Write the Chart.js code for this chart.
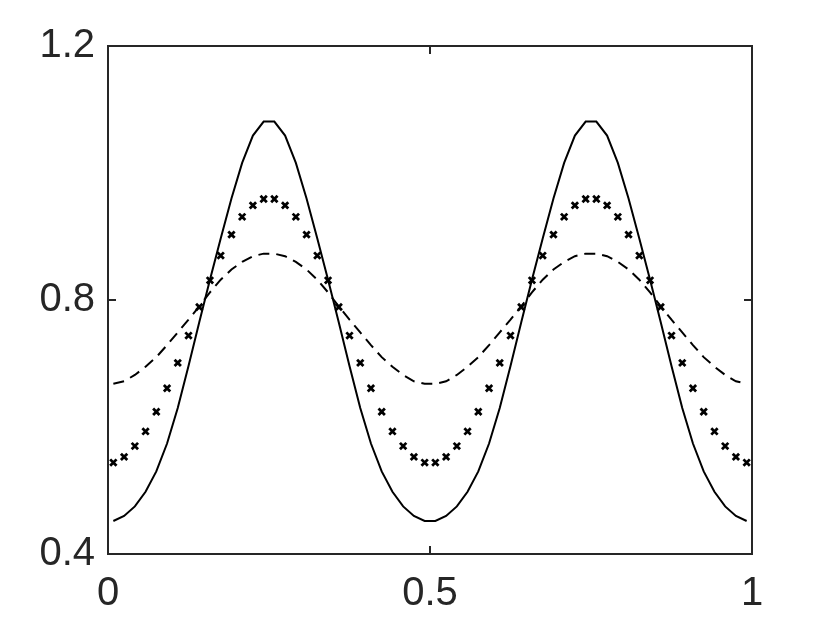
<!DOCTYPE html>
<html>
<head>
<meta charset="utf-8">
<script src="https://cdn.jsdelivr.net/npm/chart.js@4.4.1/dist/chart.umd.min.js"></script>
<style>
  html, body { margin: 0; padding: 0; background: #ffffff; }
  #wrap { width: 830px; height: 623px; }
</style>
</head>
<body>
<div id="wrap"><canvas id="c" width="830" height="623"></canvas></div>
<script>
// sample positions (x)
const xValues = [
  0.0083, 0.025, 0.0417, 0.0583, 0.075, 0.0917, 0.1083, 0.125, 0.1417, 0.1583,
  0.175, 0.1917, 0.2083, 0.225, 0.2417, 0.2583, 0.275, 0.2917, 0.3083, 0.325,
  0.3417, 0.3583, 0.375, 0.3917, 0.4083, 0.425, 0.4417, 0.4583, 0.475, 0.4917,
  0.5083, 0.525, 0.5417, 0.5583, 0.575, 0.5917, 0.6083, 0.625, 0.6417, 0.6583,
  0.675, 0.6917, 0.7083, 0.725, 0.7417, 0.7583, 0.775, 0.7917, 0.8083, 0.825,
  0.8417, 0.8583, 0.875, 0.8917, 0.9083, 0.925, 0.9417, 0.9583, 0.975, 0.9917
];
// solid line
const solidValues = [
  0.452, 0.460, 0.475, 0.498, 0.530, 0.574, 0.630, 0.696, 0.765, 0.832,
  0.897, 0.960, 1.016, 1.059, 1.081, 1.081, 1.059, 1.016, 0.960, 0.897,
  0.832, 0.765, 0.696, 0.630, 0.574, 0.530, 0.498, 0.475, 0.460, 0.452,
  0.452, 0.460, 0.475, 0.498, 0.530, 0.574, 0.630, 0.696, 0.765, 0.832,
  0.897, 0.960, 1.016, 1.059, 1.081, 1.081, 1.059, 1.016, 0.960, 0.897,
  0.832, 0.765, 0.696, 0.630, 0.574, 0.530, 0.498, 0.475, 0.460, 0.452
];
// x markers
const markerValues = [
  0.544, 0.553, 0.570, 0.593, 0.624, 0.661, 0.701, 0.744, 0.789, 0.831,
  0.870, 0.903, 0.931, 0.949, 0.959, 0.959, 0.949, 0.931, 0.903, 0.870,
  0.831, 0.789, 0.744, 0.701, 0.661, 0.624, 0.593, 0.570, 0.553, 0.544,
  0.544, 0.553, 0.570, 0.593, 0.624, 0.661, 0.701, 0.744, 0.789, 0.831,
  0.870, 0.903, 0.931, 0.949, 0.959, 0.959, 0.949, 0.931, 0.903, 0.870,
  0.831, 0.789, 0.744, 0.701, 0.661, 0.624, 0.593, 0.570, 0.553, 0.544
];
// dashed line
const dashedValues = [
  0.668, 0.672, 0.682, 0.695, 0.710, 0.729, 0.749, 0.769, 0.790, 0.812,
  0.832, 0.848, 0.860, 0.869, 0.873, 0.873, 0.869, 0.860, 0.848, 0.832,
  0.812, 0.790, 0.769, 0.749, 0.729, 0.710, 0.695, 0.682, 0.672, 0.668,
  0.668, 0.672, 0.682, 0.695, 0.710, 0.729, 0.749, 0.769, 0.790, 0.812,
  0.832, 0.848, 0.860, 0.869, 0.873, 0.873, 0.869, 0.860, 0.848, 0.832,
  0.812, 0.790, 0.769, 0.749, 0.729, 0.710, 0.695, 0.682, 0.672, 0.668
];
// tick values / labels
const xTicks = [0, 0.5, 1];
const xTickLabels = ['0', '0.5', '1'];
const yTicks = [0.4, 0.8, 1.2];
const yTickLabels = ['0.4', '0.8', '1.2'];

const AXIS_COLOR = '#262626';
const FONT = { family: "'Liberation Sans', Arial, Helvetica, sans-serif", size: 40 };

const toPts = arr => arr.map((v, i) => ({ x: xValues[i], y: v }));

const boxPlugin = {
  id: 'matlabBox',
  afterDatasetsDraw(chart) {
    const ctx = chart.ctx;
    const a = chart.chartArea;
    const sx = chart.scales.x, sy = chart.scales.y;
    const tl = 8;
    ctx.save();
    ctx.strokeStyle = AXIS_COLOR;
    ctx.lineWidth = 2;
    ctx.strokeRect(a.left, a.top, a.right - a.left, a.bottom - a.top);
    ctx.beginPath();
    xTicks.forEach(v => {
      const px = sx.getPixelForValue(v);
      ctx.moveTo(px, a.bottom); ctx.lineTo(px, a.bottom - tl);
      ctx.moveTo(px, a.top); ctx.lineTo(px, a.top + tl);
    });
    yTicks.forEach(v => {
      const py = sy.getPixelForValue(v);
      ctx.moveTo(a.left, py); ctx.lineTo(a.left + tl, py);
      ctx.moveTo(a.right, py); ctx.lineTo(a.right - tl, py);
    });
    ctx.stroke();
    ctx.restore();
  }
};

new Chart(document.getElementById('c'), {
  type: 'line',
  data: {
    datasets: [
      {
        data: toPts(solidValues),
        borderColor: '#000000',
        borderWidth: 2,
        pointRadius: 0,
        tension: 0,
        fill: false
      },
      {
        data: toPts(markerValues),
        showLine: false,
        pointStyle: 'crossRot',
        pointRadius: 4.5,
        pointBorderWidth: 2.8,
        pointBorderColor: '#000000',
        pointBackgroundColor: '#000000',
        borderColor: '#000000'
      },
      {
        data: toPts(dashedValues),
        borderColor: '#000000',
        borderWidth: 2,
        borderDash: [11, 7],
        pointRadius: 0,
        tension: 0,
        fill: false
      }
    ]
  },
  options: {
    responsive: false,
    animation: false,
    devicePixelRatio: 1,
    layout: { padding: { left: 0, right: 78, top: 46, bottom: 0 } },
    plugins: { legend: { display: false }, tooltip: { enabled: false } },
    scales: {
      x: {
        type: 'linear',
        min: 0, max: 1,
        grid: { display: false, drawTicks: false },
        border: { display: false },
        afterBuildTicks: s => { s.ticks = xTicks.map(v => ({ value: v })); },
        afterFit: s => { s.height = 69; },
        ticks: {
          color: AXIS_COLOR,
          font: FONT,
          padding: 16,
          maxRotation: 0,
          callback: (v) => xTickLabels[xTicks.indexOf(v)]
        }
      },
      y: {
        type: 'linear',
        min: 0.4, max: 1.2,
        grid: { display: false, drawTicks: false },
        border: { display: false },
        afterBuildTicks: s => { s.ticks = yTicks.map(v => ({ value: v })); },
        afterFit: s => { s.width = 108; },
        ticks: {
          color: AXIS_COLOR,
          font: FONT,
          padding: 13,
          callback: (v) => yTickLabels[yTicks.indexOf(v)]
        }
      }
    }
  },
  plugins: [boxPlugin]
});
</script>
</body>
</html>
